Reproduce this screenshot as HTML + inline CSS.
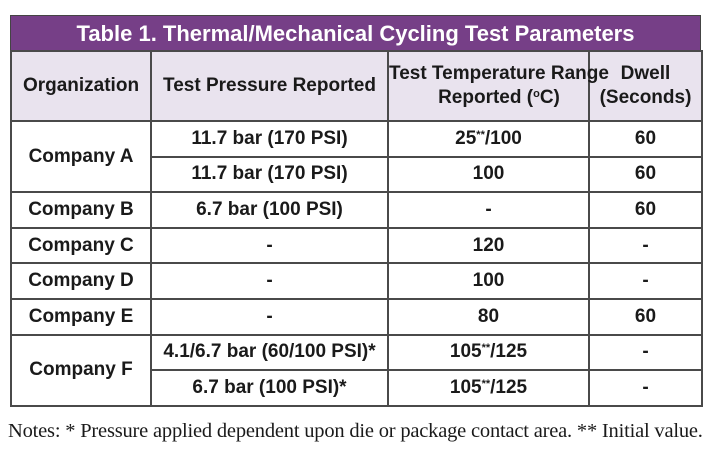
<!DOCTYPE html>
<html><head><meta charset="utf-8"><style>
body{margin:0;width:720px;height:460px;background:#fff;position:relative;overflow:hidden;font-family:"Liberation Sans Narrow","Liberation Sans",sans-serif;}
.title{position:absolute;left:10px;top:15px;width:691px;height:36px;background:#763f87;color:#fff;font-size:22px;line-height:35px;text-align:center;border:1px solid #444;box-sizing:border-box}
.c{display:inline-block;white-space:nowrap}
table{position:absolute;left:10px;top:50px;border-collapse:collapse;table-layout:fixed;width:691px}
td{border:2px solid #4a4a4a;text-align:center;vertical-align:middle;font-size:19px;font-weight:bold;color:#1a1a1a;padding:0;overflow:visible}
tr.h td{background:#e9e3ee;height:68px;line-height:24px}
tr.r td{height:33.6px}
sup{font-size:11px;line-height:0;vertical-align:6px}
.notes{position:absolute;left:8px;top:420px;font-family:"Liberation Serif",serif;font-size:20.5px;color:#1a1a1a;white-space:nowrap;letter-spacing:-0.2px}
</style></head><body>
<div class="title"><span class="c" style="font-weight:bold">Table 1. Thermal/Mechanical Cycling Test Parameters</span></div>
<table>
<colgroup><col style="width:140px"><col style="width:237px"><col style="width:201px"><col style="width:113px"></colgroup>
<tr class="h">
<td><span class="c">Organization</span></td>
<td><span class="c">Test Pressure Reported</span></td>
<td><span class="c">Test Temperature Range<br>Reported (<sup>o</sup>C)</span></td>
<td><span class="c">Dwell<br>(Seconds)</span></td></tr>
<tr class="r"><td rowspan="2"><span class="c">Company A</span></td><td><span class="c">11.7 bar (170 PSI)</span></td><td><span class="c">25<sup>**</sup>/100</span></td><td><span class="c">60</span></td></tr>
<tr class="r"><td><span class="c">11.7 bar (170 PSI)</span></td><td><span class="c">100</span></td><td><span class="c">60</span></td></tr>
<tr class="r"><td><span class="c">Company B</span></td><td><span class="c">6.7 bar (100 PSI)</span></td><td><span class="c">-</span></td><td><span class="c">60</span></td></tr>
<tr class="r"><td><span class="c">Company C</span></td><td><span class="c">-</span></td><td><span class="c">120</span></td><td><span class="c">-</span></td></tr>
<tr class="r"><td><span class="c">Company D</span></td><td><span class="c">-</span></td><td><span class="c">100</span></td><td><span class="c">-</span></td></tr>
<tr class="r"><td><span class="c">Company E</span></td><td><span class="c">-</span></td><td><span class="c">80</span></td><td><span class="c">60</span></td></tr>
<tr class="r"><td rowspan="2"><span class="c">Company F</span></td><td><span class="c">4.1/6.7 bar (60/100 PSI)*</span></td><td><span class="c">105<sup>**</sup>/125</span></td><td><span class="c">-</span></td></tr>
<tr class="r"><td><span class="c">6.7 bar (100 PSI)*</span></td><td><span class="c">105<sup>**</sup>/125</span></td><td><span class="c">-</span></td></tr>
</table>
<div class="notes">Notes: * Pressure applied dependent upon die or package contact area. ** Initial value.</div>
</body></html>
